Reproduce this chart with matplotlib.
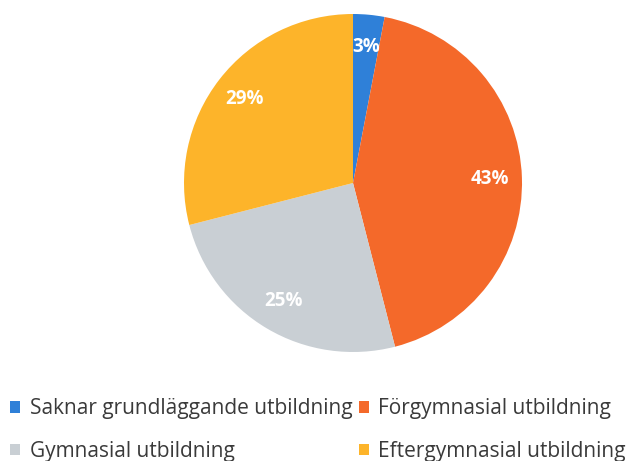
import matplotlib.pyplot as plt
from matplotlib.patches import Patch

categories = ['Saknar grundläggande utbildning', 'Förgymnasial utbildning',
              'Gymnasial utbildning', 'Eftergymnasial utbildning']
shares = [3, 43, 25, 29]
colors = ['#2f80d8', '#f4692a', '#c9cfd4', '#fdb42a']

plt.rcParams['font.family'] = ['Open Sans', 'DejaVu Sans']

W, H = 630, 461
cx, cy, r = 353, 183, 169

fig = plt.figure(figsize=(W / 100, H / 100), dpi=100)
# axes spans the pie vertically; x limits chosen so the circle stays round
ax = fig.add_axes([0.0, (H - cy - r) / H, 1.0, 2 * r / H])

wedges, texts, autotexts = ax.pie(
    shares, colors=colors, startangle=90, counterclock=False,
    autopct='%d%%', pctdistance=0.81,
    wedgeprops={'linewidth': 0},
    textprops={'color': 'white', 'fontsize': 13.5, 'fontweight': 'bold'})
ax.set_xlim(-cx / r, (W - cx) / r)
ax.set_ylim(-1, 1)
ax.set_aspect('equal', adjustable='box')
ax.axis('off')

# column-major order so rows read: first two, then last two
order = [0, 2, 1, 3]
handles = [Patch(facecolor=colors[i], edgecolor='none') for i in order]
labels = [categories[i] for i in order]
fig.legend(handles, labels, loc='upper left', bbox_to_anchor=(10 / W, (H - 398) / H),
           ncol=2, frameon=False, fontsize=15, handlelength=0.5,
           handleheight=0.5, handletextpad=0.45, columnspacing=0.3,
           labelspacing=1.05, borderpad=0, borderaxespad=0,
           labelcolor='#3a3a3a')

fig.savefig('out.png', dpi=100)
